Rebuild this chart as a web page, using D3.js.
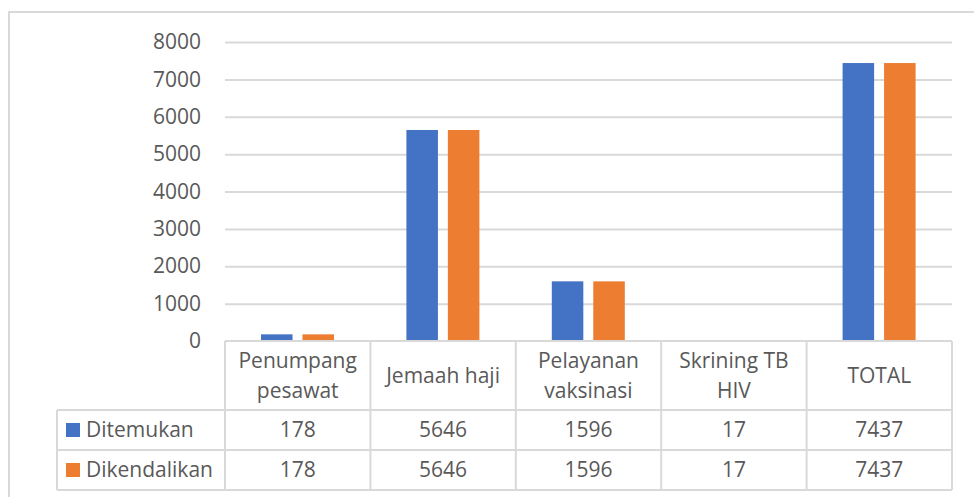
<!DOCTYPE html>
<html>
<head>
<meta charset="utf-8">
<script src="https://cdn.jsdelivr.net/npm/d3@7"></script>
<style>
  body { margin: 0; background: #fff; }
  text { font-family: "Open Sans", sans-serif; fill: #595959; }
</style>
</head>
<body>
<div id="chart"></div>
<script>
// data
var categories = [["Penumpang", "pesawat"], ["Jemaah haji"], ["Pelayanan", "vaksinasi"], ["Skrining TB", "HIV"], ["TOTAL"]];
var seriesNames = ["Ditemukan", "Dikendalikan"];
var ditemukan = [178, 5646, 1596, 17, 7437];
var dikendalikan = [178, 5646, 1596, 17, 7437];
var yTicks = [0, 1000, 2000, 3000, 4000, 5000, 6000, 7000, 8000];
var colors = ["#4472C4", "#ED7D31"];

var svgWidth = 974, svgHeight = 497;
var plotLeft = 225, plotRight = 952, plotTop = 42, plotBottom = 341;
var fontSize = 21;
var gridColor = "#D9D9D9";

var svg = d3.select("#chart").append("svg")
  .attr("width", svgWidth)
  .attr("height", svgHeight);

// chart frame
svg.append("rect")
  .attr("x", 9).attr("y", 12)
  .attr("width", 990).attr("height", 520)
  .attr("fill", "none")
  .attr("stroke", gridColor)
  .attr("stroke-width", 2);

var catKeys = categories.map(function(d) { return d.join(" "); });
var x0 = d3.scaleBand().domain(catKeys).range([plotLeft, plotRight]);
var x1 = d3.scaleBand().domain(seriesNames).range([36, 109]).paddingInner(0.24);
var y = d3.scaleLinear().domain([0, 8000]).range([plotBottom, plotTop]);

// gridlines
var grid = svg.append("g")
  .attr("transform", `translate(${plotLeft},0)`)
  .call(d3.axisLeft(y).tickValues(yTicks.slice(1)).tickSize(-(plotRight - plotLeft)).tickFormat(""));
grid.select(".domain").remove();
grid.selectAll("line").attr("stroke", gridColor).attr("stroke-width", 2);

// y labels
var yAxis = svg.append("g")
  .attr("transform", `translate(${plotLeft},0)`)
  .call(d3.axisLeft(y).tickValues(yTicks).tickSize(0).tickPadding(24).tickFormat(d3.format("d")));
yAxis.select(".domain").remove();
yAxis.selectAll("text")
  .attr("font-size", fontSize)
  .attr("font-family", "Open Sans")
  .attr("fill", "#595959");

// bars
var rows = categories.map(function(c, i) {
  return { key: catKeys[i], values: [ditemukan[i], dikendalikan[i]] };
});
var groups = svg.append("g").selectAll("g")
  .data(rows).enter()
  .append("g")
  .attr("transform", d => `translate(${x0(d.key)},0)`);
groups.selectAll("rect")
  .data(d => d.values.map((v, j) => ({ name: seriesNames[j], value: v, color: colors[j] })))
  .enter().append("rect")
  .attr("x", d => x1(d.name))
  .attr("width", x1.bandwidth())
  .attr("y", d => y(d.value))
  .attr("height", d => y(0) - y(d.value))
  .attr("fill", d => d.color);

// data table
var headTop = plotBottom, rowTop = [410, 450], rowBottom = 490, legendLeft = 57;
var tbl = svg.append("g")
  .attr("fill", "none")
  .attr("stroke", gridColor)
  .attr("stroke-width", 2);
// horizontal lines
tbl.append("line").attr("x1", plotLeft).attr("x2", plotRight).attr("y1", headTop).attr("y2", headTop);
[rowTop[0], rowTop[1], rowBottom].forEach(function(yy) {
  tbl.append("line").attr("x1", legendLeft).attr("x2", plotRight).attr("y1", yy).attr("y2", yy);
});
// vertical lines
tbl.append("line").attr("x1", legendLeft).attr("x2", legendLeft).attr("y1", rowTop[0]).attr("y2", rowBottom);
catKeys.concat([null]).forEach(function(k) {
  var xx = k ? x0(k) : plotRight;
  tbl.append("line").attr("x1", xx).attr("x2", xx).attr("y1", headTop).attr("y2", rowBottom);
});

// header labels
var headMid = (headTop + rowTop[0]) / 2;
var lineGap = 30;
categories.forEach(function(lines, i) {
  var cx = x0(catKeys[i]) + x0.bandwidth() / 2;
  var t = svg.append("text")
    .attr("text-anchor", "middle")
    .attr("font-size", fontSize);
  lines.forEach(function(l, j) {
    t.append("tspan")
      .attr("x", cx)
      .attr("y", headMid + (j - (lines.length - 1) / 2) * lineGap)
      .attr("dy", "0.35em")
      .text(l);
  });
});

// legend cells and values
[ditemukan, dikendalikan].forEach(function(vals, r) {
  var mid = (rowTop[r] + (r === 0 ? rowTop[1] : rowBottom)) / 2;
  svg.append("rect")
    .attr("x", 66).attr("y", mid - 7)
    .attr("width", 14).attr("height", 14)
    .attr("fill", colors[r]);
  svg.append("text")
    .attr("x", 86).attr("y", mid).attr("dy", "0.35em")
    .attr("font-size", fontSize)
    .text(seriesNames[r]);
  vals.forEach(function(v, i) {
    svg.append("text")
      .attr("x", x0(catKeys[i]) + x0.bandwidth() / 2)
      .attr("y", mid).attr("dy", "0.35em")
      .attr("text-anchor", "middle")
      .attr("font-size", fontSize)
      .text(v);
  });
});
</script>
</body>
</html>
